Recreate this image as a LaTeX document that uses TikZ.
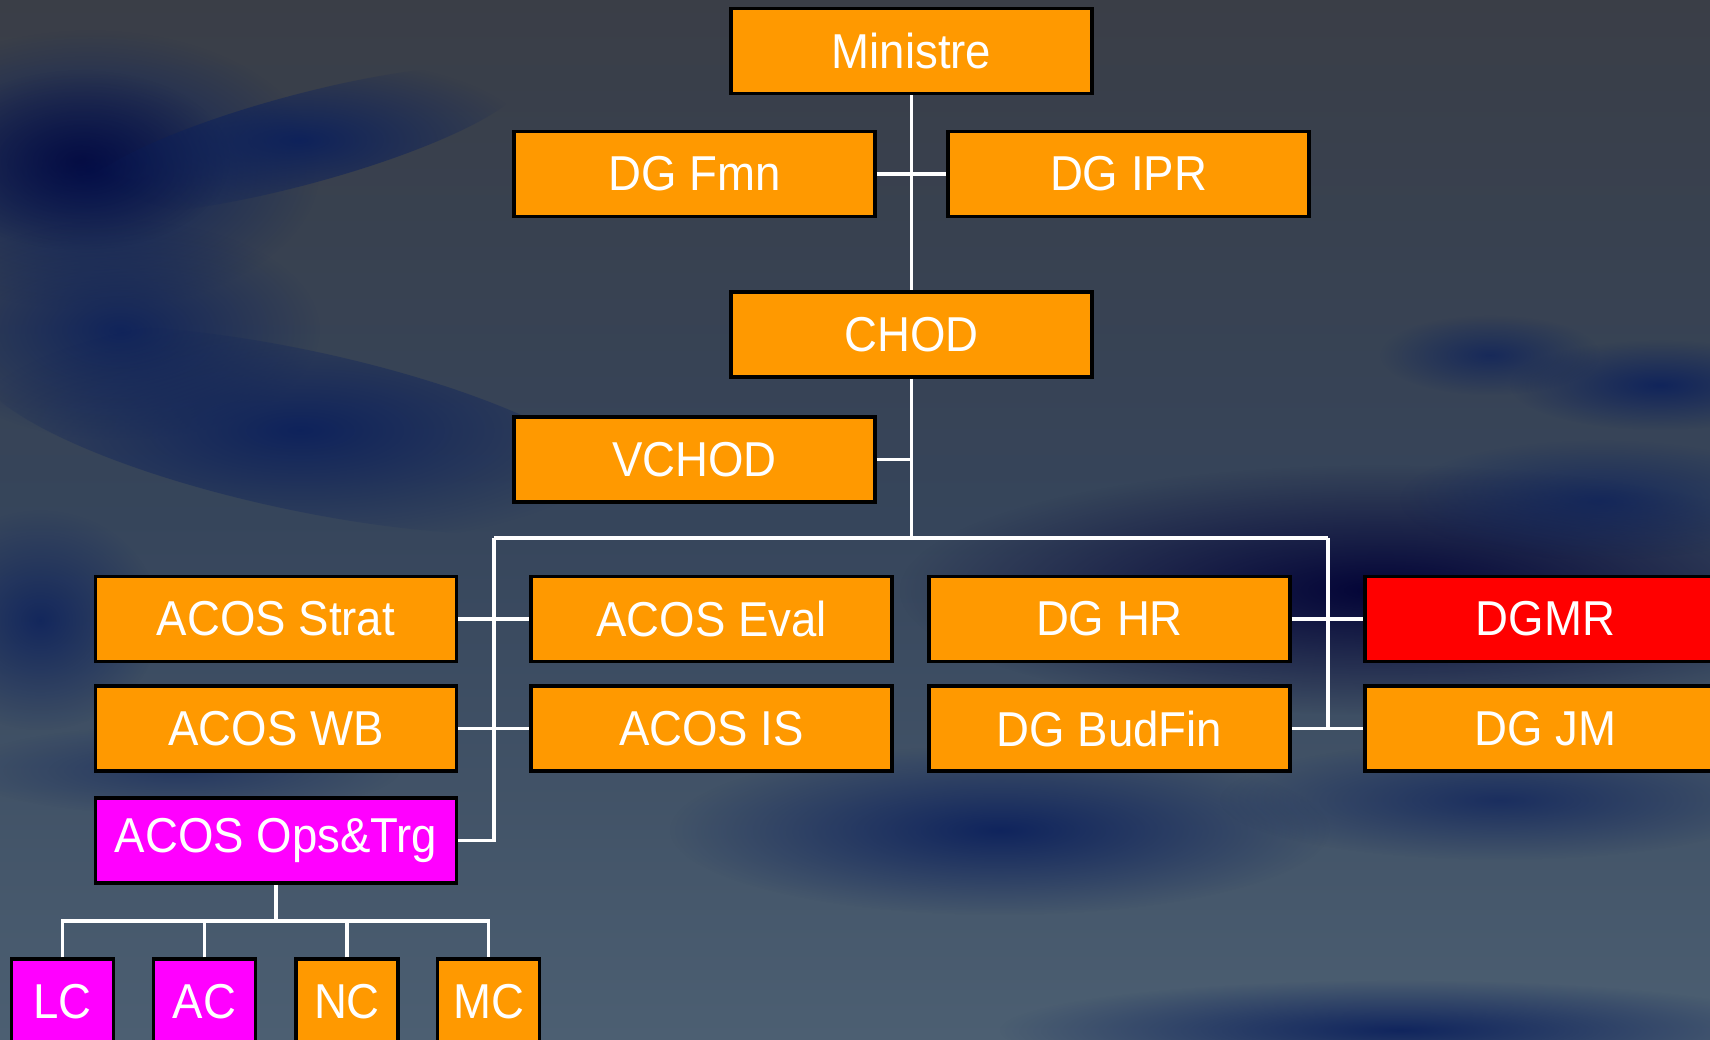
\documentclass[tikz,border=0pt]{standalone}
\usepackage{fontspec}
\setmainfont{Liberation Sans}[FakeStretch=0.93]
\usetikzlibrary{fadings}
\tikzfading[name=fuzzy, inner color=transparent!0, outer color=transparent!100]
\definecolor{boxorange}{HTML}{FF9900}
\definecolor{boxmagenta}{HTML}{FF00FF}
\definecolor{boxred}{HTML}{FF0000}
\definecolor{skytop}{HTML}{3A3E47}
\definecolor{skymid}{HTML}{36455B}
\definecolor{skybot}{HTML}{4C5F72}
\definecolor{navy}{HTML}{0A1F5C}
\definecolor{deepnavy}{HTML}{000035}
\tikzset{
  orgbox/.style={rectangle, draw=black, line width=3.5pt, fill=boxorange,
    text=white, minimum width=361pt, minimum height=85pt, inner sep=0pt,
    font=\fontsize{49}{56}\selectfont},
  smallbox/.style={orgbox, minimum width=102pt},
  wire/.style={draw=white, line width=3.2pt},
  cloud/.style={fill=navy, path fading=fuzzy}
}
\begin{document}
\begin{tikzpicture}[x=1pt, y=-1pt]
\useasboundingbox (0,0) rectangle (1710,1039);
\clip (0,0) rectangle (1710,1039);
% sky
\shade[top color=skytop, bottom color=skybot, middle color=skymid] (0,0) rectangle (1710,1039);
\fill[cloud, fill opacity=1] (90,170) ellipse (230 and 140);
\fill[cloud, fill=deepnavy, fill opacity=0.6] (80,160) ellipse (150 and 90);
\fill[cloud, fill opacity=0.9, rotate around={15:(300,140)}] (300,140) ellipse (230 and 45);
\fill[cloud, fill opacity=0.85] (120,330) ellipse (200 and 110);
\fill[cloud, fill opacity=0.9, rotate around={-12:(300,430)}] (300,430) ellipse (330 and 80);
\fill[cloud, fill opacity=0.8] (40,620) ellipse (120 and 110);
\fill[cloud, fill=deepnavy, fill opacity=0.95] (1380,590) ellipse (480 and 125);
\fill[cloud, fill opacity=0.7] (1600,500) ellipse (200 and 60);
\fill[cloud, fill opacity=0.85] (1660,385) ellipse (150 and 45);
\fill[cloud, fill opacity=0.7] (1490,355) ellipse (110 and 40);
\fill[cloud, fill opacity=0.9] (1000,830) ellipse (330 and 85);
\fill[cloud, fill opacity=0.7] (1500,800) ellipse (280 and 60);
\fill[cloud, fill opacity=0.9] (1400,1030) ellipse (400 and 50);
\fill[cloud, fill opacity=0.5] (180,770) ellipse (220 and 45);
% boxes
\node[orgbox] (min) at (911.5,51) {Ministre};
\node[orgbox] (fmn) at (694.5,174) {DG Fmn};
\node[orgbox] (ipr) at (1128.5,174) {DG IPR};
\node[orgbox] (chod) at (911.5,334.5) {CHOD};
\node[orgbox] (vchod) at (694.5,459.5) {VCHOD};
\node[orgbox] (strat) at (276,619) {ACOS Strat};
\node[orgbox] (eval) at (711.5,619) {ACOS Eval};
\node[orgbox] (hr) at (1109.5,619) {DG HR};
\node[orgbox, fill=boxred] (dgmr) at (1545.5,619) {DGMR};
\node[orgbox] (wb) at (276,728.5) {ACOS WB};
\node[orgbox] (is) at (711.5,728.5) {ACOS IS};
\node[orgbox] (bud) at (1109.5,728.5) {DG BudFin};
\node[orgbox] (jm) at (1545.5,728.5) {DG JM};
\node[orgbox, fill=boxmagenta] (ops) at (276,840.5) {ACOS Ops\&Trg};
\node[smallbox, fill=boxmagenta] (lc) at (62.5,1001.5) {LC};
\node[smallbox, fill=boxmagenta] (ac) at (204.5,1001.5) {AC};
\node[smallbox] (nc) at (347,1001.5) {NC};
\node[smallbox] (mc) at (488.5,1001.5) {MC};
% connectors
\coordinate (barM) at (911.5,538);
\coordinate (barL) at (494,538);
\coordinate (barR) at (1328,538);
\coordinate (obar) at (276,921);
\draw[wire] (min.south) -- (chod.north);
\draw[wire] (fmn.east) -- (ipr.west);
\draw[wire] (chod.south) -- (barM);
\draw[wire] (vchod.east) -- (vchod.east -| chod.south);
\draw[wire] (barL) -- (barR);
\draw[wire] (barL) |- (ops.east);
\draw[wire] (barR) |- (jm.west);
\draw[wire] (strat.east) -- (eval.west);
\draw[wire] (wb.east) -- (is.west);
\draw[wire] (hr.east) -- (dgmr.west);
\draw[wire] (bud.east) -- (jm.west);
\draw[wire] (ops.south) -- (obar);
\draw[wire] (lc.north) -- (lc.north |- obar) -- (mc.north |- obar) -- (mc.north);
\draw[wire] (ac.north) -- (ac.north |- obar);
\draw[wire] (nc.north) -- (nc.north |- obar);
\end{tikzpicture}
\end{document}
